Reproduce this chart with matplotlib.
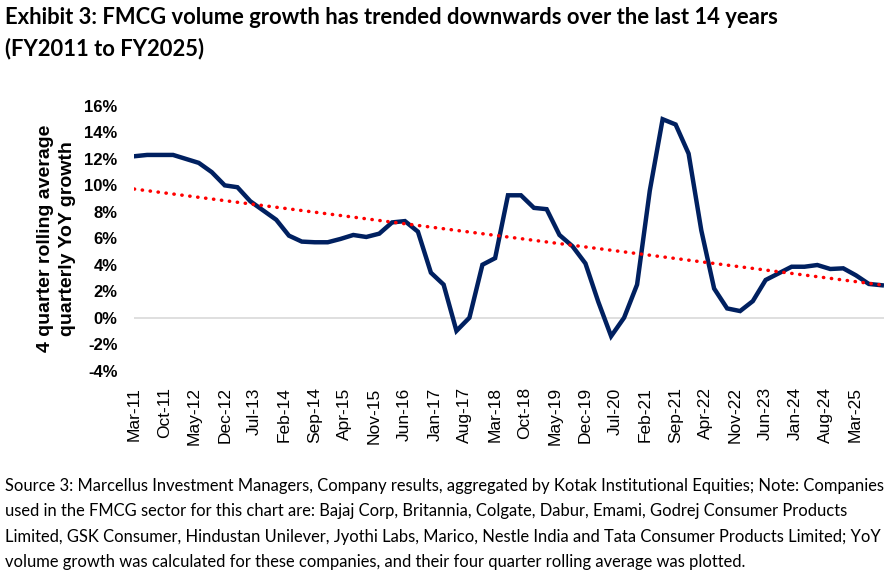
import numpy as np
import pandas as pd
import matplotlib
matplotlib.use('Agg')
import matplotlib.pyplot as plt
import matplotlib.dates as mdates

# quarter-end dates, Mar-11 to Sep-25
dates = pd.date_range('2011-03-31', '2025-09-30', freq='QE')

# 4 quarter rolling average of quarterly YoY volume growth (%)
growth = [12.2, 12.3, 12.3, 12.3, 12.0, 11.7, 11.0, 10.0, 9.86, 8.8,
          8.1, 7.4, 6.2, 5.75, 5.7, 5.7, 5.95, 6.25, 6.1, 6.35,
          7.2, 7.3, 6.5, 3.4, 2.5, -1.0, 0.0, 4.0, 4.5, 9.25,
          9.25, 8.3, 8.2, 6.25, 5.4, 4.1, 1.2, -1.4, 0.0, 2.5,
          9.6, 15.0, 14.6, 12.4, 6.6, 2.2, 0.7, 0.5, 1.25, 2.85,
          3.35, 3.85, 3.85, 3.98, 3.68, 3.73, 3.2, 2.55, 2.45]

y_ticks = list(range(-4, 17, 2))

title = ('Exhibit 3: FMCG volume growth has trended downwards over the last 14 years\n'
         '(FY2011 to FY2025)')
source = ('Source 3: Marcellus Investment Managers, Company results, aggregated by Kotak Institutional Equities; Note: Companies\n'
          'used in the FMCG sector for this chart are: Bajaj Corp, Britannia, Colgate, Dabur, Emami, Godrej Consumer Products\n'
          'Limited, GSK Consumer, Hindustan Unilever, Jyothi Labs, Marico, Nestle India and Tata Consumer Products Limited; YoY\n'
          'volume growth was calculated for these companies, and their four quarter rolling average was plotted.')

fig = plt.figure(figsize=(8.91, 5.76), dpi=100)
ax = fig.add_axes([0.1507, 0.3566, 0.8415, 0.4594])

ax.plot(dates, growth, color='#002060', lw=3.2, solid_joinstyle='miter', zorder=3)

# linear trendline like Excel's
xnum = mdates.date2num(dates)
k, b = np.polyfit(xnum, growth, 1)
ax.plot(dates, k * xnum + b, color='#FF0000', lw=2.5, linestyle=(0, (0.1, 2.2)),
        dash_capstyle='round', zorder=4)

ax.axhline(0, color='#D9D9D9', lw=1.2, zorder=1)

ax.set_ylim(-4, 16)
ax.set_yticks(y_ticks)
ax.set_yticklabels([f'{t}%' for t in y_ticks], fontsize=12, fontweight='bold',
                   family='Liberation Sans')

xt = pd.date_range(dates[0], periods=25, freq=pd.DateOffset(months=7))
ax.set_xticks(xt)
ax.set_xticklabels([d.strftime('%b-%y') for d in xt], rotation=90, fontsize=12.5,
                   family='Liberation Sans')
ax.set_xlim(dates[0], dates[-1] + pd.Timedelta(days=16))
ax.tick_params(axis='both', length=0)
ax.tick_params(axis='y', pad=12)
ax.tick_params(axis='x', pad=12)

for s in ax.spines.values():
    s.set_visible(False)

ax.set_ylabel('4 quarter rolling average\nquarterly YoY growth', fontsize=14,
              fontweight='bold', family='Liberation Sans', labelpad=6, linespacing=1.4)

fig.text(0.006, 0.988, title, fontsize=15.8, fontweight='bold', family='Lato',
         va='top', ha='left', linespacing=1.55)
fig.text(0.006, 0.17, source, fontsize=11.9, family='Lato',
         va='top', ha='left', linespacing=1.72)

fig.savefig('out.png', dpi=100)
